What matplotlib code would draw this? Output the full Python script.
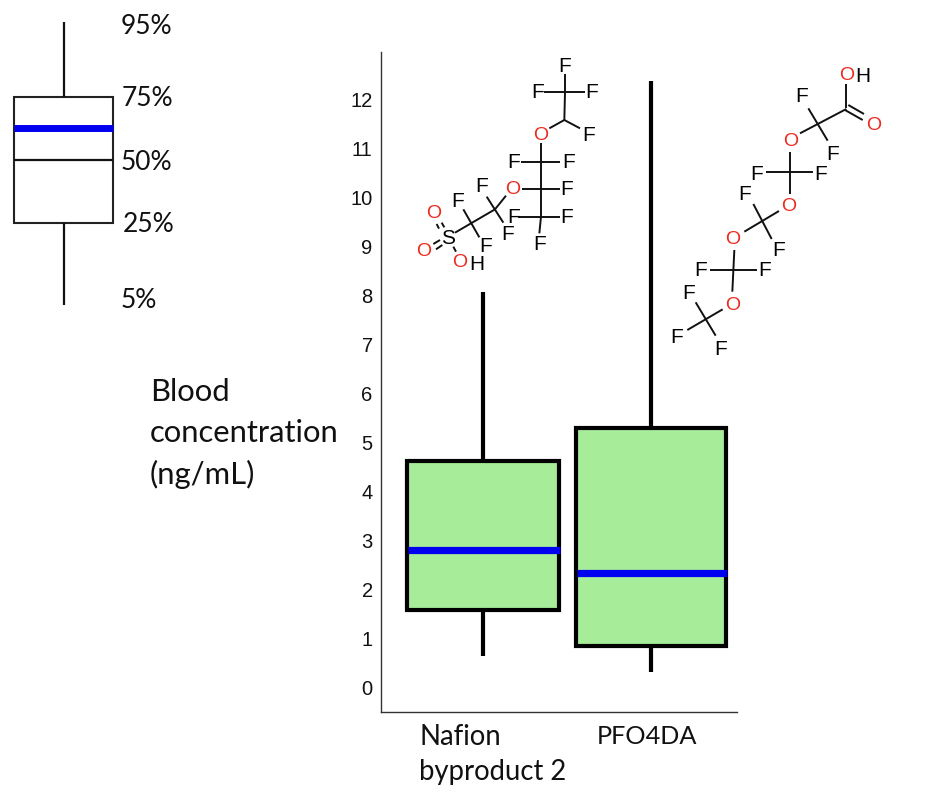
import matplotlib
matplotlib.use("Agg")
import matplotlib.pyplot as plt

# ---- data ----
categories = ["Nafion\nbyproduct 2", "PFO4DA"]
whisker_low = [0.63, 0.31]
q1_values = [1.57, 0.84]
medians = [2.80, 2.33]
q3_values = [4.62, 5.29]
whisker_high = [8.07, 12.39]
y_ticks = list(range(0, 13))

key_labels = ["95%", "75%", "50%", "25%", "5%"]

W, H = 935, 795
fig = plt.figure(figsize=(W / 100, H / 100), dpi=100, facecolor="white")

TEXT_FONT = ["Lato", "DejaVu Sans"]
TICK_FONT = ["Liberation Sans", "DejaVu Sans"]
GREEN = "#A6EC99"
BLUE = "#0000F0"

# ---- main chart ----
ax = fig.add_axes([381 / W, (H - 712) / H, 356 / W, 660 / H], facecolor="none")
stats = [
    dict(whislo=a, q1=b, med=c, q3=d, whishi=e, fliers=[])
    for a, b, c, d, e in zip(whisker_low, q1_values, medians, q3_values, whisker_high)
]
bp = ax.bxp(
    stats, positions=[1, 2], widths=[0.905, 0.893], patch_artist=True,
    showcaps=False, showfliers=False,
    boxprops=dict(facecolor=GREEN, edgecolor="black", linewidth=3),
    whiskerprops=dict(color="black", linewidth=3, solid_capstyle="butt"),
    medianprops=dict(color=BLUE, linewidth=5.2, solid_capstyle="butt"),
)
for line in bp["medians"]:
    line.set_xdata([v + 0.008 for v in line.get_xdata()])
ax.set_xlim(0.393, 2.512)
ax.set_ylim(-0.511, 12.98)
for s in ("top", "right"):
    ax.spines[s].set_visible(False)
for s in ("left", "bottom"):
    ax.spines[s].set_color("#333333")
    ax.spines[s].set_linewidth(1)
ax.set_yticks(y_ticks)
ax.set_yticklabels([str(t) for t in y_ticks], family=TICK_FONT, fontsize=14.5, color="#111111")
ax.tick_params(axis="y", length=0, pad=6)
ax.set_xticks([])

# ---- overlay in pixel coordinates: key, labels, structures ----
ov = fig.add_axes([0, 0, 1, 1], facecolor="none")

# key box
key_stats = [dict(whislo=305, q1=223, med=160, q3=97, whishi=22, mean=128, fliers=[])]
ov.bxp(
    key_stats, positions=[63.5], widths=[99], patch_artist=True, manage_ticks=False,
    showcaps=False, showfliers=False, showmeans=True, meanline=True,
    boxprops=dict(facecolor="white", edgecolor="#222222", linewidth=1.5),
    whiskerprops=dict(color="#111111", linewidth=1.6, solid_capstyle="butt"),
    medianprops=dict(color="#111111", linewidth=1.6, solid_capstyle="butt"),
    meanprops=dict(color=BLUE, linewidth=5, linestyle="-", solid_capstyle="butt"),
)
ov.set_xlim(0, W)
ov.set_ylim(H, 0)
ov.axis("off")

key_pos = [(121, 26), (122, 98), (121, 162), (123, 225), (121, 300)]
for lab, (x, y) in zip(key_labels, key_pos):
    ov.text(x, y, lab, family=TEXT_FONT, fontsize=19, ha="left", va="center", color="#111111")

for txt, y in [("Blood", 392), ("concentration", 433), ("(ng/mL)", 474)]:
    ov.text(150, y, txt, family=TEXT_FONT, fontsize=22.3, ha="left", va="center", color="#111111")
ov.text(419, 737, "Nafion", family=TEXT_FONT, fontsize=19.8, ha="left", va="center", color="#111111")
ov.text(419, 772, "byproduct 2", family=TEXT_FONT, fontsize=19.8, ha="left", va="center", color="#111111")
ov.text(597, 737, "PFO4DA", family=TEXT_FONT, fontsize=18.2, ha="left", va="center", color="#111111")


def draw_structure(ox, oy, bonds, atoms):
    for (x0, y0, x1, y1) in bonds:
        ov.plot([ox + x0 / 3, ox + x1 / 3], [oy + y0 / 3, oy + y1 / 3],
                color="#111111", lw=1.4, solid_capstyle="butt")
    for sym, x, y in atoms:
        col = "#EE2A1E" if sym == "O" else "black"
        size = 14 if sym == "O" else 15
        ov.text(ox + x / 3, oy + y / 3, sym, family=TICK_FONT, fontsize=size,
                ha="center", va="center", color=col)


nafion_bonds = [
    (495, 103, 495, 157), (433, 157, 555, 157), (495, 157, 493, 240),
    (493, 240, 540, 265), (493, 240, 448, 265), (423, 308, 423, 530),
    (363, 365, 480, 365), (366, 448, 480, 448), (355, 530, 480, 530),
    (423, 530, 418, 580), (318, 467, 285, 508), (285, 508, 165, 578),
    (260, 470, 310, 548), (190, 508, 238, 592), (110, 552, 117, 566),
    (125, 548, 133, 562), (100, 612, 120, 600), (108, 628, 127, 615),
    (160, 620, 168, 635),
]
nafion_atoms = [
    ("F", 493, 78), ("F", 412, 158), ("F", 576, 158), ("F", 567, 287), ("O", 421, 285),
    ("F", 340, 367), ("F", 507, 367), ("O", 337, 447), ("F", 501, 448), ("F", 340, 533),
    ("F", 501, 533), ("F", 420, 612), ("F", 244, 438), ("F", 324, 585), ("F", 172, 485),
    ("F", 256, 620), ("S", 143, 595), ("O", 100, 522), ("O", 70, 635), ("O", 180, 668),
    ("H", 230, 672),
]
draw_structure(400, 40, nafion_bonds, nafion_atoms)

pfo_bonds = [
    (559, 103, 559, 175), (555, 180, 608, 210), (565, 165, 612, 192),
    (559, 177, 420, 250), (445, 175, 503, 272), (391, 305, 391, 433),
    (318, 367, 460, 367), (357, 483, 253, 545), (280, 462, 335, 567),
    (223, 600, 217, 725), (150, 661, 290, 661), (188, 778, 82, 840),
    (107, 757, 167, 857),
]
pfo_atoms = [
    ("O", 559, 78), ("H", 608, 78), ("O", 640, 225), ("F", 425, 140), ("F", 517, 312),
    ("O", 391, 273), ("F", 289, 375), ("F", 481, 375), ("O", 385, 470), ("F", 254, 434),
    ("F", 356, 602), ("O", 217, 567), ("F", 122, 662), ("F", 314, 662), ("O", 217, 765),
    ("F", 86, 730), ("F", 50, 862), ("F", 181, 898),
]
draw_structure(660, 50, pfo_bonds, pfo_atoms)

fig.savefig("out.png", dpi=100, facecolor="white")
